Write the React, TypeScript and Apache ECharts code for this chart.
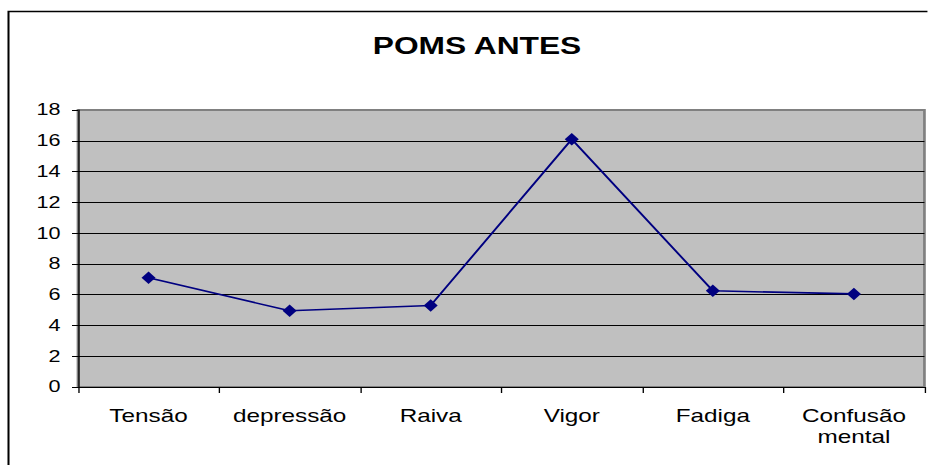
import React, { useEffect, useRef } from 'react';
import * as echarts from 'echarts';

const categories: string[] = ['Tensão', 'depressão', 'Raiva', 'Vigor', 'Fadiga', 'Confusão mental'];
const values: number[] = [7.1, 4.95, 5.3, 16.1, 6.25, 6.05];
const titleText = 'POMS ANTES';
const yMin = 0;
const yMax = 18;
const yInterval = 2;

const STRETCH = 1.35;
const W = 928 / STRETCH;
const H = 465;
const FONT = '"Liberation Sans", Arial, sans-serif';

export default function App() {
  const ref = useRef<HTMLDivElement>(null);
  useEffect(() => {
    if (!ref.current) return;
    const chart = echarts.init(ref.current, undefined, { renderer: 'svg' });
    const splitColors: string[] = [];
    for (let v = yMin; v <= yMax; v += yInterval) splitColors.push(v === yMax ? '#808080' : '#000000');
    chart.setOption({
      animation: false,
      backgroundColor: '#ffffff',
      graphic: [
        {
          type: 'polyline',
          shape: { points: [[8.5 / STRETCH, 470], [8.5 / STRETCH, 11.5], [W + 20, 11.5]] },
          style: { fill: 'none', stroke: '#000000', lineWidth: 1.5 },
          silent: true,
          z: -10,
        },
        {
          type: 'text',
          x: 477 / STRETCH,
          y: 46,
          style: {
            text: titleText,
            textAlign: 'center',
            textVerticalAlign: 'middle',
            font: `bold 23.5px ${FONT}`,
            fill: '#000000',
          },
        },
      ],
      grid: {
        left: 78 / STRETCH,
        right: 3 / STRETCH,
        top: 110,
        bottom: 78,
        show: true,
        backgroundColor: '#c0c0c0',
        borderColor: '#808080',
        borderWidth: 2,
      },
      xAxis: {
        type: 'category',
        data: categories,
        boundaryGap: true,
        axisLine: { show: true, lineStyle: { color: '#000000', width: 1 } },
        axisTick: { show: true, length: 6, inside: false, lineStyle: { color: '#000000' } },
        axisLabel: {
          color: '#000000',
          fontFamily: FONT,
          fontSize: 18,
          lineHeight: 21,
          margin: 19,
          interval: 0,
          formatter: (v: string) => v.replace(' ', '\n'),
        },
        splitLine: { show: false },
      },
      yAxis: {
        type: 'value',
        min: yMin,
        max: yMax,
        interval: yInterval,
        axisLine: { show: true, lineStyle: { color: '#000000', width: 1 } },
        axisTick: { show: true, length: 6 / STRETCH, inside: false, lineStyle: { color: '#000000' } },
        axisLabel: { color: '#000000', fontFamily: FONT, fontSize: 16, margin: 13 },
        splitLine: { show: true, lineStyle: { color: splitColors, width: 1 } },
      },
      series: [
        {
          type: 'line',
          data: values,
          symbol: 'diamond',
          symbolSize: [10.4, 12.5],
          lineStyle: { color: '#000080', width: 1.6 },
          itemStyle: { color: '#000080' },
        },
      ],
    });
    return () => chart.dispose();
  }, []);
  return (
    <div
      style={{
        position: 'fixed',
        left: 0,
        top: 0,
        width: 928,
        height: H,
        overflow: 'hidden',
        background: '#ffffff',
      }}
    >
      <div
        ref={ref}
        style={{
          position: 'absolute',
          left: 0,
          top: 0,
          width: W,
          height: H,
          transform: `scaleX(${STRETCH})`,
          transformOrigin: '0 0',
        }}
      />
    </div>
  );
}
